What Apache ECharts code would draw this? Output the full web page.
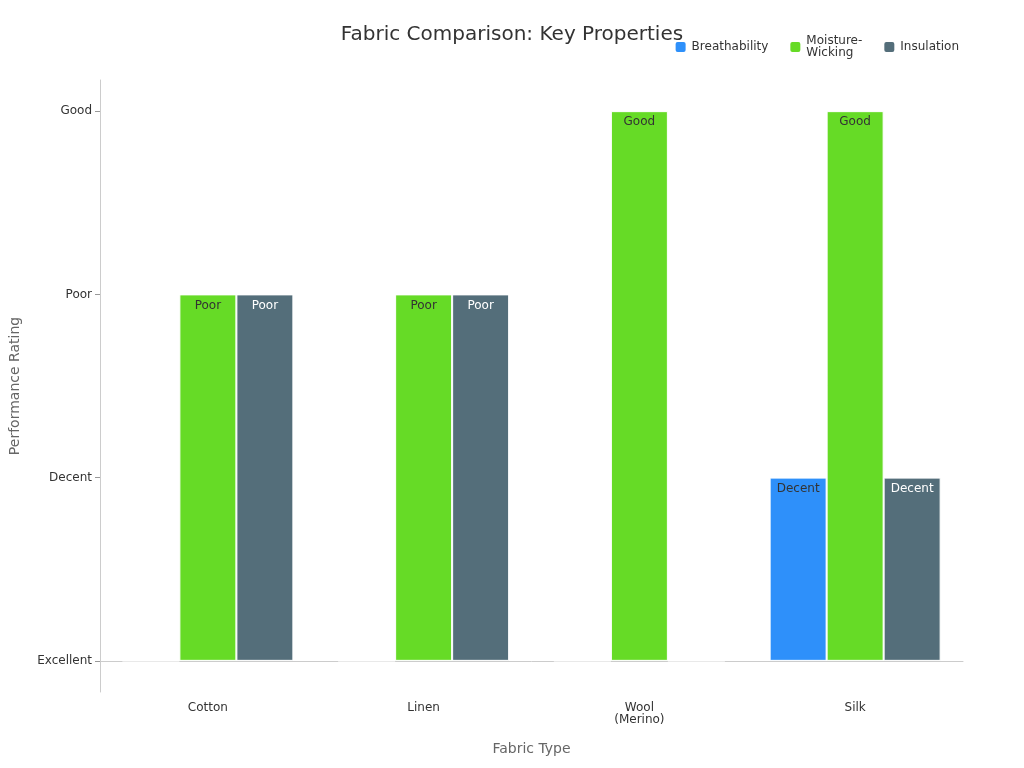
<!DOCTYPE html>
<html><head><meta charset="utf-8">
<script src="https://cdn.jsdelivr.net/npm/echarts@6/dist/echarts.min.js"></script>
<style>html,body{margin:0;padding:0;background:#fff}#c{width:1024px;height:768px}</style>
</head><body><div id="c"></div>
<script>
const categories = ['Cotton', 'Linen', 'Wool\n(Merino)', 'Silk'];
const ratingLabels = ['Excellent', 'Decent', 'Poor', 'Good'];
const breathability = [0, 0, 0, 1];
const moistureWicking = [2, 2, 3, 3];
const insulation = [2, 2, 0, 1];

const chart = echarts.init(document.getElementById('c'));
function lbl(color) {
  return {
    show: true, position: 'insideTop', color: color, fontSize: 12, fontFamily: 'DejaVu Sans',
    formatter: p => p.value > 0 ? ratingLabels[p.value] : ''
  };
}
function ser(name, data, color, lc) {
  return {
    name, type: 'bar', data, barWidth: 57, barGap: '0%',
    itemStyle: { color, borderColor: '#ffffff', borderWidth: 1 },
    label: lbl(lc)
  };
}
chart.setOption({
  textStyle: { fontFamily: 'DejaVu Sans' },
  title: { text: 'Fabric Comparison: Key Properties', left: 'center', top: 20,
    textStyle: { fontSize: 20, fontWeight: 'normal', color: '#333' } },
  legend: { top: 30, right: 60, itemWidth: 12, itemHeight: 12, itemGap: 20,
    textStyle: { fontSize: 12, color: '#333' },
    data: ['Breathability', 'Moisture-Wicking', 'Insulation'],
    formatter: n => n === 'Moisture-Wicking' ? 'Moisture-\nWicking' : n },
  grid: { left: 99, right: 61, top: 80, bottom: 76 },
  xAxis: { type: 'category', data: categories, name: 'Fabric Type', nameLocation: 'middle', nameGap: 50,
    nameTextStyle: { fontSize: 14, color: '#666' },
    axisLine: { lineStyle: { color: '#ccc' } }, axisTick: { alignWithLabel: true, lineStyle: { color: '#999' } },
    axisLabel: { color: '#333', fontSize: 12, margin: 10 } },
  yAxis: { type: 'value', min: -0.17, max: 3.17, name: 'Performance Rating', nameLocation: 'middle', nameGap: 78,
    nameTextStyle: { fontSize: 14, color: '#666' },
    axisLine: { show: true, lineStyle: { color: '#ccc' } },
    axisTick: { show: true, customValues: [0, 1, 2, 3], lineStyle: { color: '#999' } },
    axisLabel: { customValues: [0, 1, 2, 3], color: '#333', fontSize: 12, formatter: v => ratingLabels[Math.round(v)] },
    splitLine: { show: false } },
  series: [
    ser('Breathability', breathability, '#2e90fa', '#333'),
    ser('Moisture-Wicking', moistureWicking, '#66db26', '#333'),
    ser('Insulation', insulation, '#546e7a', '#fff')
  ]
});
</script></body></html>
